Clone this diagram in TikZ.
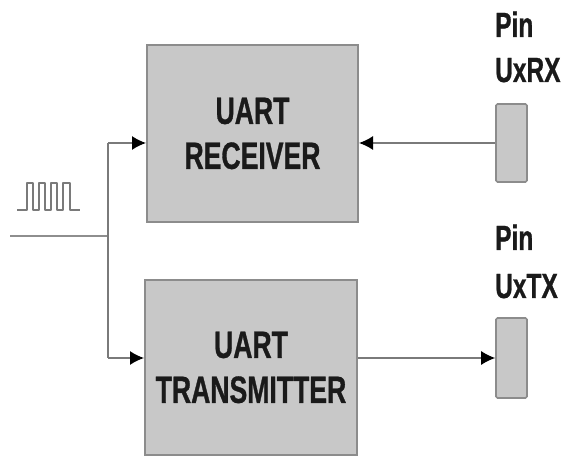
\documentclass[tikz,border=0pt]{standalone}
\usepackage{fontspec}
\newfontfamily\cond[FakeStretch=0.7,FakeBold=0.8]{Liberation Sans}
\usetikzlibrary{arrows.meta}
\definecolor{boxfill}{HTML}{C8C8C8}
\definecolor{boxline}{HTML}{8C8C8C}
\definecolor{wire}{HTML}{7A7A7A}
\definecolor{txt}{HTML}{1A1A1A}
\tikzset{
  blockbox/.style={draw=boxline, line width=2pt, fill=boxfill, inner sep=0pt,
    text=txt, align=center, font={\cond\bfseries\fontsize{38}{45}\selectfont}},
  pinbox/.style={draw=boxline, line width=1.6pt, fill=boxfill, inner sep=0pt,
    rounded corners=1.5pt, minimum width=31pt},
  pinlabel/.style={anchor=base west, inner sep=0pt, text=txt,
    font={\cond\bfseries\fontsize{35}{45}\selectfont}},
  conn/.style={draw=wire, line width=1.4pt},
  arr/.style={conn, -{Latex[length=14pt,width=14pt,fill=black,color=black]}},
}
\begin{document}
\begin{tikzpicture}[x=1pt,y=1pt]
\useasboundingbox (0,0) rectangle (568,458);
% blocks
\node[blockbox, minimum width=211pt, minimum height=177pt] (rx) at (252.5,324.5) {UART\\RECEIVER};
\node[blockbox, minimum width=212pt, minimum height=175pt] (tx) at (251,90.5) {UART\\TRANSMITTER};
% pins
\node[pinbox, minimum height=78pt] (pinrx) at (511.5,315) {};
\node[pinbox, minimum height=80pt] (pintx) at (511.5,100) {};
\node[pinlabel] (lrx1) at (495,421) {Pin};
\node[pinlabel] (lrx2) at (495,376) {UxRX};
\node[pinlabel] (ltx1) at (495,208) {Pin};
\node[pinlabel] (ltx2) at (495,160) {UxTX};
% input and junction
\coordinate (in) at (10,222);
\coordinate (j) at (108,222);
\coordinate (jt) at (108,315);
\coordinate (jb) at (108,100);
\draw[draw=wire!85, line width=2.2pt] (in) -- (j);
\draw[conn] (jt) -- (jb);
\draw[arr] (jt) -- (rx.west |- jt);
\draw[arr] (jb) -- (tx.west |- jb);
\draw[arr] (pinrx.west) -- (rx.east |- pinrx.west);
\draw[arr] (tx.east |- pintx.west) -- (pintx.west);
% clock symbol
\draw[draw=wire, line width=1.3pt, line join=round]
  (17,248) -- (27,248) -- (27,275) -- (33,275) -- (33,248)
  -- (39,248) -- (39,275) -- (45,275) -- (45,248)
  -- (51,248) -- (51,275) -- (57,275) -- (57,248)
  -- (63,248) -- (63,275) -- (70,275) -- (70,248) -- (80,248);
\end{tikzpicture}
\end{document}
